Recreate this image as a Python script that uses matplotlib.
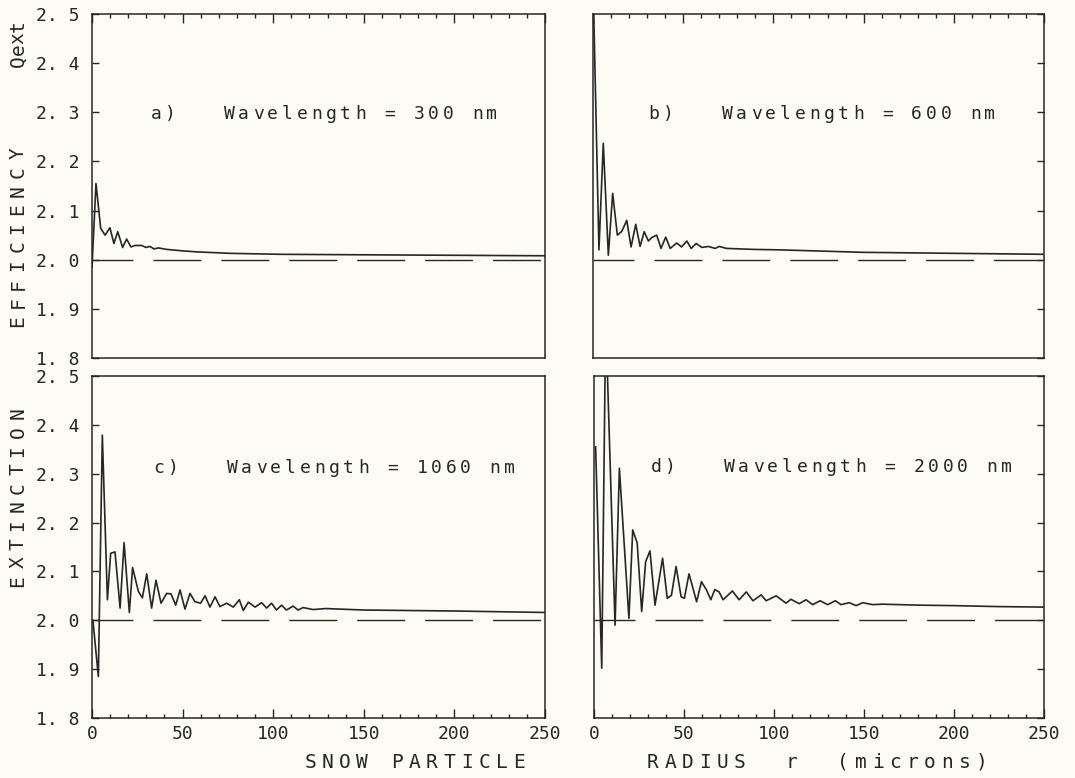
import matplotlib
matplotlib.use("Agg")
import matplotlib.pyplot as plt
from matplotlib.ticker import MultipleLocator, FuncFormatter

# radius (microns) / extinction efficiency
r_a = [0, 2.2, 4.8, 7.2, 9.9, 12.1, 14.2, 16.9, 19.1, 21.5, 23.7, 27.4, 29.8, 32, 34.2,
       36.6, 41.2, 50, 57.7, 76, 104, 150, 200, 250]
q_a = [1.985, 2.155, 2.064, 2.050, 2.065, 2.033, 2.057, 2.025, 2.042, 2.026, 2.029, 2.029,
       2.025, 2.027, 2.022, 2.024, 2.021, 2.018, 2.016, 2.013, 2.011, 2.010, 2.009, 2.008]

r_b = [0, 3.3, 5.7, 8.5, 10.9, 13.5, 16, 18.7, 21.1, 23.7, 26.1, 28.4, 30.7, 32.5, 35.3,
       37.7, 40.3, 42.8, 46.4, 49.1, 52, 54.4, 57.2, 60.3, 64, 67.7, 70, 74, 81.5, 89,
       104, 150, 200, 250]
q_b = [2.57, 2.02, 2.237, 2.009, 2.135, 2.050, 2.058, 2.080, 2.026, 2.072, 2.027, 2.057,
       2.038, 2.045, 2.050, 2.023, 2.046, 2.023, 2.034, 2.026, 2.038, 2.023, 2.033, 2.025,
       2.027, 2.023, 2.027, 2.023, 2.022, 2.021, 2.020, 2.015, 2.013, 2.011]

r_c = [0.5, 3.5, 5.7, 8.5, 10.3, 12.7, 15.5, 17.7, 20.6, 22.4, 25.6, 27.8, 30.2, 32.9,
       35.3, 38.1, 41.2, 43.6, 46.2, 48.6, 51.3, 54.1, 56.8, 59.9, 62.4, 65.1, 67.9, 70.6,
       74.3, 78, 81.3, 83.5, 86.3, 90, 93.6, 96.4, 99.1, 101.8, 104.6, 107.3, 111, 113.7,
       116.5, 122, 129, 150, 200, 250]
q_c = [2.0, 1.885, 2.379, 2.042, 2.137, 2.140, 2.025, 2.159, 2.016, 2.108, 2.059, 2.046,
       2.095, 2.025, 2.082, 2.035, 2.055, 2.054, 2.031, 2.062, 2.023, 2.055, 2.038, 2.035,
       2.050, 2.027, 2.048, 2.028, 2.035, 2.027, 2.042, 2.020, 2.037, 2.027, 2.036, 2.025,
       2.035, 2.021, 2.031, 2.021, 2.029, 2.021, 2.026, 2.022, 2.024, 2.021, 2.019, 2.016]

r_d = [0.9, 4.3, 6.5, 11.7, 14.1, 19.4, 21.5, 24, 26.5, 28.7, 31.1, 33.9, 38.1, 40.7, 43,
       45.6, 48.4, 50.2, 52.8, 57, 59.7, 62.5, 64.9, 67.1, 69.5, 71.7, 76.9, 80.6, 84.6,
       88.3, 92.9, 95.6, 101.2, 106.7, 109.4, 114, 117.8, 121.5, 125.6, 129.8, 134.1,
       137.2, 141.8, 145.6, 149.3, 154.8, 160, 180, 200, 225, 250]
q_d = [2.355, 1.902, 2.62, 1.990, 2.311, 2.004, 2.185, 2.158, 2.018, 2.120, 2.142, 2.031,
       2.127, 2.045, 2.051, 2.110, 2.048, 2.045, 2.095, 2.038, 2.079, 2.062, 2.042, 2.063,
       2.058, 2.042, 2.060, 2.042, 2.058, 2.040, 2.052, 2.040, 2.050, 2.035, 2.043, 2.034,
       2.042, 2.032, 2.040, 2.032, 2.040, 2.032, 2.036, 2.030, 2.036, 2.032, 2.033, 2.031,
       2.030, 2.028, 2.027]

labels = ["a)   Wavelength = 300 nm", "b)   Wavelength = 600 nm",
          "c)   Wavelength = 1060 nm", "d)   Wavelength = 2000 nm"]

W, H = 1075, 778
bg = "#fcfcf4"
ink = "#262626"

plt.rcParams["font.family"] = "DejaVu Sans Mono"
fig = plt.figure(figsize=(W / 100, H / 100), dpi=100)
fig.patch.set_facecolor(bg)


def spaced(x0, y0, s, pitch, size, rot=0):
    # plotter-style lettering: one glyph per fixed step (image pixels)
    for i, ch in enumerate(s):
        if rot:
            x, y = x0, y0 - i * pitch
        else:
            x, y = x0 + i * pitch, y0
        fig.text(x / W, 1 - y / H, ch, rotation=rot, ha="center", va="center",
                 fontsize=size, color=ink)


# panel boxes in image pixels: left, top, right, bottom
boxes = [(92, 14, 545, 358), (593, 14, 1044, 358), (92, 376, 545, 718), (594, 376, 1044, 718)]
series = [(r_a, q_a), (r_b, q_b), (r_c, q_c), (r_d, q_d)]
text_start = [(156, 114), (654, 114), (159, 468), (656, 467)]

for k, ((l, t, r, b), (xs, ys)) in enumerate(zip(boxes, series)):
    ax = fig.add_axes([l / W, 1 - b / H, (r - l) / W, (b - t) / H])
    ax.set_facecolor(bg)
    top = k < 2
    left = k % 2 == 0
    ax.set_xlim(0, 250)
    ax.set_ylim(1.8, 2.5)
    ax.xaxis.set_major_locator(MultipleLocator(50))
    ax.xaxis.set_minor_locator(MultipleLocator(10))
    ax.yaxis.set_major_locator(MultipleLocator(0.1))
    ax.yaxis.set_major_formatter(FuncFormatter(lambda v, p: f"{v:.1f}".replace(".", ". ")))
    ax.tick_params(which="both", direction="in", color=ink, labelcolor=ink, labelsize=13,
                   top=top, bottom=not top, labeltop=False, labelbottom=not top,
                   left=left, right=not left, labelleft=left, labelright=False)
    ax.tick_params(axis="x", which="major", length=6.5, width=1, pad=5)
    ax.tick_params(axis="x", which="minor", length=3.2, width=1)
    ax.tick_params(axis="y", which="major", length=5, width=1, pad=9)
    for sp in ax.spines.values():
        sp.set_color(ink)
        sp.set_linewidth(1.1)

    ax.axhline(2.0, color=ink, lw=1.0, linestyle=(5, (34.5, 14.4)))
    ax.plot(xs, ys, color=ink, lw=1.2)

    sx, sy = text_start[k]
    spaced(sx, sy, labels[k], 14.6, 13)

# axis titles
spaced(310, 762, "SNOW PARTICLE", 17.4, 14)
spaced(653, 762, "RADIUS  r  (microns)", 17.3, 14)
spaced(18, 581, "EXTINCTION", 18.6, 14, rot=90)
spaced(18, 321, "EFFICIENCY", 18.6, 14, rot=90)
spaced(18, 61, "Qext", 11.5, 14, rot=90)

fig.savefig("out.png", dpi=100, facecolor=bg)
